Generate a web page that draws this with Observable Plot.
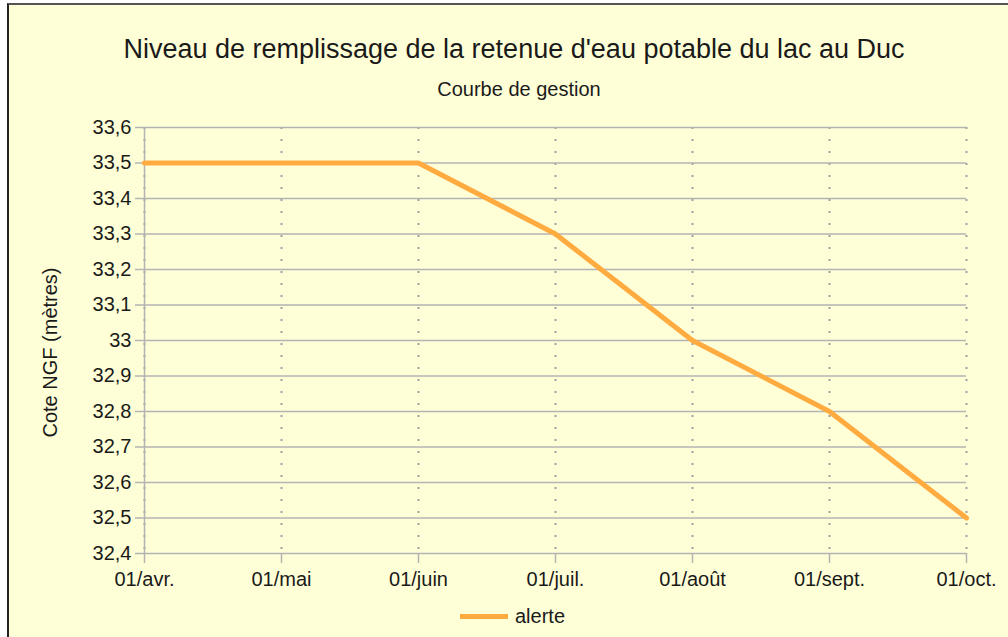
<!DOCTYPE html>
<html>
<head>
<meta charset="utf-8">
<script src="https://cdn.jsdelivr.net/npm/d3@7"></script>
<script src="https://cdn.jsdelivr.net/npm/@observablehq/plot@0.6"></script>
<style>
  html, body { margin: 0; padding: 0; background: #fff; }
  #wrap { position: relative; width: 1008px; height: 637px; overflow: hidden; font-family: "Liberation Sans", Arial, sans-serif; }
  #frame { position: absolute; left: 7px; top: 3px; width: 1010px; height: 632px; background: #ffffd7; border-left: 2px solid #222; border-top: 2px solid #555; border-bottom: 1px solid #bbb; }
  .t { position: absolute; white-space: nowrap; color: #1a1a1a; transform: translateX(-50%); line-height: 1.15; }
  #chart { position: absolute; left: 0; top: 0; }
  #legend { position: absolute; left: 460px; top: 605px; display: flex; align-items: center; font-size: 20px; line-height: 1.15; color: #1a1a1a; }
  #legend span.sw { display: inline-block; width: 48px; height: 5px; background: #ffab40; margin-right: 7px; }
</style>
</head>
<body>
<div id="wrap">
  <div id="frame"></div>
  <div id="chart"></div>
  <div class="t" style="left:514px; top:34px; font-size:27px;">Niveau de remplissage de la retenue d'eau potable du lac au Duc</div>
  <div class="t" style="left:519px; top:78px; font-size:20px;">Courbe de gestion</div>
  <div id="legend"><span class="sw"></span><span>alerte</span></div>
</div>
<script>
const categories = ["01/avr.", "01/mai", "01/juin", "01/juil.", "01/août", "01/sept.", "01/oct."];
const alerte = [33.5, 33.5, 33.5, 33.3, 33.0, 32.8, 32.5];
const yTicks = [32.4, 32.5, 32.6, 32.7, 32.8, 32.9, 33.0, 33.1, 33.2, 33.3, 33.4, 33.5, 33.6];
const seriesName = "alerte";

const data = categories.map((c, i) => ({ date: c, value: alerte[i], serie: seriesName }));
const fr = d3.formatLocale({ decimal: ",", thousands: " ", grouping: [3], currency: ["", " €"] });
const fmt = fr.format("~g");

const chart = Plot.plot({
  width: 1008,
  height: 637,
  marginLeft: 143,
  marginRight: 42,
  marginTop: 127,
  marginBottom: 84,
  style: { background: "transparent", fontFamily: "'Liberation Sans', Arial, sans-serif", fontSize: "20px", color: "#1a1a1a", overflow: "visible" },
  x: { type: "point", domain: categories, padding: 0, label: null },
  y: { domain: [32.4, 33.6], label: null },
  marks: [
    Plot.ruleX(categories, { x: d => d, stroke: "#a0a0a0", strokeWidth: 2, strokeDasharray: "2,10", strokeOpacity: 1 }),
    Plot.ruleY(yTicks, { y: d => d, stroke: "#b3b3b3", strokeWidth: 1.5, strokeOpacity: 1 }),
    Plot.axisY({ ticks: yTicks, tickFormat: fmt, tickSize: 8, tickPadding: 4, stroke: "#b3b3b3", fontSize: 20, strokeWidth: 1.5, strokeOpacity: 1, label: null }),
    Plot.axisX({ tickSize: 10, tickPadding: 8, stroke: "#b3b3b3", fontSize: 20, strokeWidth: 1.5, strokeOpacity: 1, label: null }),
    Plot.ruleX([categories[0]], { x: d => d, stroke: "#b3b3b3", strokeWidth: 1.5 }),
    Plot.text(["Cote NGF (mètres)"], { frameAnchor: "left", textAnchor: "middle", dx: -93, dy: 12, rotate: -90, fontSize: 20, fill: "#1a1a1a" }),
    Plot.line(data, { x: "date", y: "value", stroke: "#ffab40", strokeWidth: 5, strokeLinejoin: "miter" })
  ]
});
document.getElementById("chart").appendChild(chart);
</script>
</body>
</html>
